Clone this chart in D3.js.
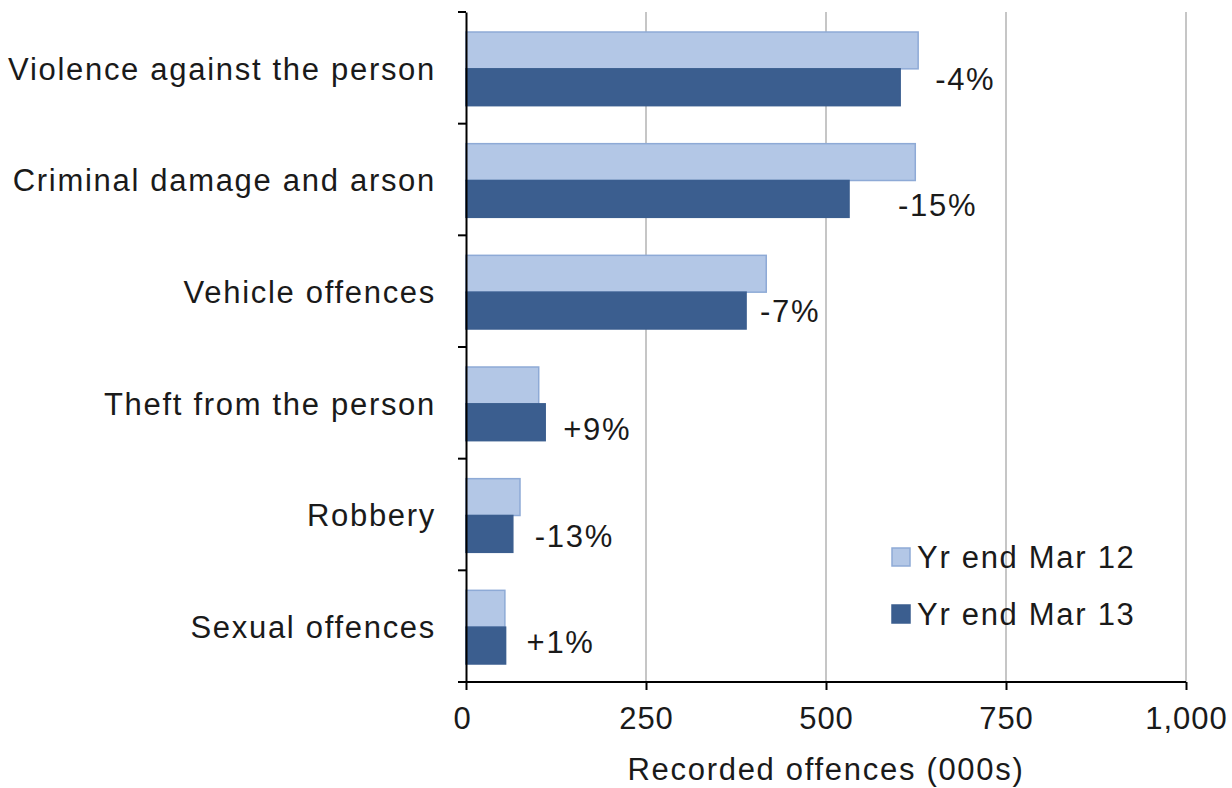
<!DOCTYPE html>
<html>
<head>
<meta charset="utf-8">
<script src="https://cdn.jsdelivr.net/npm/d3@7/dist/d3.min.js"></script>
<style>
  html, body { margin: 0; padding: 0; background: #fff; }
  svg text { font-family: "Liberation Sans", Arial, sans-serif; fill: #1a1a1a; letter-spacing: 1.7px; }
</style>
</head>
<body>
<svg id="chart" width="1232" height="788"></svg>
<script>
// Recorded offences (thousands), by offence type
const categories = [
  "Violence against the person",
  "Criminal damage and arson",
  "Vehicle offences",
  "Theft from the person",
  "Robbery",
  "Sexual offences"
];
const seriesNames = ["Yr end Mar 12", "Yr end Mar 13"];
const yrMar12 = [628, 624, 417, 101, 75, 54];
const yrMar13 = [603, 532, 389, 110, 65, 55];
const changeLabels = ["-4%", "-15%", "-7%", "+9%", "-13%", "+1%"];
const xTicks = [0, 250, 500, 750, 1000];

// hand-placed nudges for the change labels (px, relative to the end of the latest bar)
const labelDx = [35, 49, 14, 18, 22, 21];
const labelDy = [-8, 6, 1, 7, 2, -3];

const colors = ["#b3c7e6", "#3b5e8f"];
const strokes = ["#8eaad6", "#3b5e8f"];
const FS = 31;

const svg = d3.select("#chart");
const margin = { left: 466, right: 46, top: 12, bottom: 106 };
const W = 1232, H = 788;

const x = d3.scaleLinear().domain([0, 1000]).range([margin.left, W - margin.right]);
const y = d3.scaleBand().domain(categories).range([margin.top, H - margin.bottom]).paddingInner(0).paddingOuter(0);
const inner = d3.scaleBand().domain([0, 1]).range([20, y.bandwidth() - 18]);

// vertical gridlines
svg.append("g").selectAll("line").data(xTicks.filter(d => d > 0)).join("line")
  .attr("x1", d => x(d)).attr("x2", d => x(d))
  .attr("y1", margin.top).attr("y2", H - margin.bottom)
  .attr("stroke", "#c6c6c6").attr("stroke-width", 2);

// bars
const groups = svg.append("g").selectAll("g").data(categories).join("g")
  .attr("transform", d => `translate(0,${y(d)})`);

[yrMar12, yrMar13].forEach((vals, s) => {
  groups.append("rect")
    .attr("x", x(0))
    .attr("y", inner(s))
    .attr("width", (d, i) => x(vals[i]) - x(0))
    .attr("height", inner.bandwidth())
    .attr("fill", colors[s])
    .attr("stroke", strokes[s])
    .attr("stroke-width", 1.5);
});

// change labels next to the latest-year bar
groups.append("text")
  .attr("x", (d, i) => x(yrMar13[i]) + labelDx[i])
  .attr("y", (d, i) => inner(1) + inner.bandwidth() / 2 + labelDy[i])
  .attr("dy", "0.35em")
  .attr("font-size", FS)
  .text((d, i) => changeLabels[i]);

// y axis
const yg = svg.append("g").attr("transform", `translate(${x(0)},0)`)
  .call(d3.axisLeft(y).tickSize(0).tickFormat(""));
yg.select(".domain").attr("stroke", "#000").attr("stroke-width", 2);
// ticks on the category boundaries
const bounds = categories.map(c => y(c)).concat([y.range()[1]]);
svg.append("g").selectAll("line").data(bounds).join("line")
  .attr("x1", x(0) - 8).attr("x2", x(0))
  .attr("y1", d => d).attr("y2", d => d)
  .attr("stroke", "#000").attr("stroke-width", 2);

// category labels
svg.append("g").selectAll("text").data(categories).join("text")
  .attr("x", x(0) - 30)
  .attr("y", d => y(d) + y.bandwidth() / 2 + 1)
  .attr("dy", "0.35em")
  .attr("text-anchor", "end")
  .attr("font-size", FS)
  .text(d => d);

// x axis
const xAxis = d3.axisBottom(x).tickValues(xTicks).tickSize(8).tickPadding(17)
  .tickFormat(d3.format(","));
const xg = svg.append("g").attr("transform", `translate(0,${H - margin.bottom})`).call(xAxis);
xg.select(".domain").attr("stroke", "#000").attr("stroke-width", 2).attr("d", `M${x(0) - 8},0H${x(1000)}`);
xg.selectAll(".tick line").attr("stroke", "#000").attr("stroke-width", 2);
xg.selectAll(".tick text").attr("font-size", FS).attr("fill", "#1a1a1a")
  .attr("font-family", "Liberation Sans, Arial, sans-serif")
  .style("letter-spacing", "1px")
  .attr("dx", d => d === 0 ? -4 : 0);

svg.append("text")
  .attr("x", (x(0) + x(1000)) / 2)
  .attr("y", 780)
  .attr("text-anchor", "middle")
  .attr("font-size", FS)
  .text("Recorded offences (000s)");

// legend
const legend = svg.append("g").attr("transform", "translate(892,548)");
seriesNames.forEach((name, i) => {
  const g = legend.append("g").attr("transform", `translate(0,${i * 57})`);
  g.append("rect").attr("width", 18).attr("height", 18)
    .attr("fill", colors[i]).attr("stroke", strokes[i]).attr("stroke-width", 1.5);
  g.append("text").attr("x", 25).attr("y", 9).attr("dy", "0.35em")
    .attr("font-size", FS).text(name);
});
</script>
</body>
</html>
